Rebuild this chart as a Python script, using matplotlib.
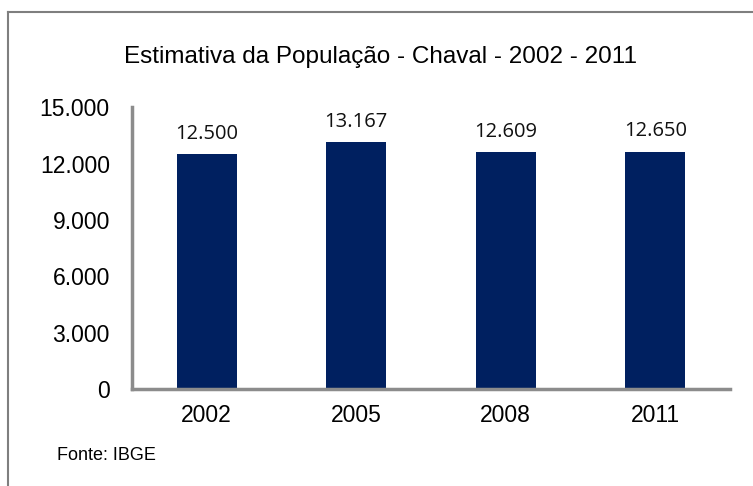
import matplotlib
matplotlib.use("Agg")
import matplotlib.pyplot as plt
from matplotlib.lines import Line2D

# data
years = ["2002", "2005", "2008", "2011"]
population = [12500, 13167, 12609, 12650]
value_labels = ["12.500", "13.167", "12.609", "12.650"]
yticks = [0, 3000, 6000, 9000, 12000, 15000]
ytick_labels = ["0", "3.000", "6.000", "9.000", "12.000", "15.000"]

plt.rcParams['font.family'] = ['Liberation Sans', 'DejaVu Sans']

fig = plt.figure(figsize=(7.53, 4.86), dpi=100)
ax = fig.add_axes([132 / 753, 97 / 486, 598 / 753, 281.5 / 486])

x = range(len(years))
ax.bar(x, population, width=0.4, color="#002060")

# value labels above the bars
for xi, v, lab in zip(x, population, value_labels):
    ax.text(xi, v + 550, lab, ha="center", va="bottom", fontsize=14.5,
            family=["Open Sans", "DejaVu Sans"], color="#111111")

ax.set_xlim(-0.5, 3.5)
ax.set_ylim(0, 15000)
ax.set_xticks(list(x))
ax.set_xticklabels(years, fontsize=16.5)
ax.set_yticks(yticks)
ax.set_yticklabels(ytick_labels, fontsize=16.5)
ax.tick_params(length=0)
ax.tick_params(axis="x", pad=11)
ax.tick_params(axis="y", pad=16)

for s in ["top", "right"]:
    ax.spines[s].set_visible(False)
for s in ["left", "bottom"]:
    ax.spines[s].set_color("#8c8c8c")
    ax.spines[s].set_linewidth(2.5)

fig.text(381 / 753, 1 - 57 / 486, "Estimativa da População - Chaval - 2002 - 2011",
         ha="center", va="center", fontsize=17.5)
fig.text(57 / 753, 1 - 455 / 486, "Fonte: IBGE", ha="left", va="center", fontsize=13)

# outer frame (top and left only)
fig.add_artist(Line2D([8 / 753, 1], [1 - 12 / 486, 1 - 12 / 486],
                      transform=fig.transFigure, color="#7f7f7f", lw=1.5))
fig.add_artist(Line2D([8 / 753, 8 / 753], [0, 1 - 12 / 486],
                      transform=fig.transFigure, color="#7f7f7f", lw=1.5))

fig.savefig("out.png", dpi=100)
